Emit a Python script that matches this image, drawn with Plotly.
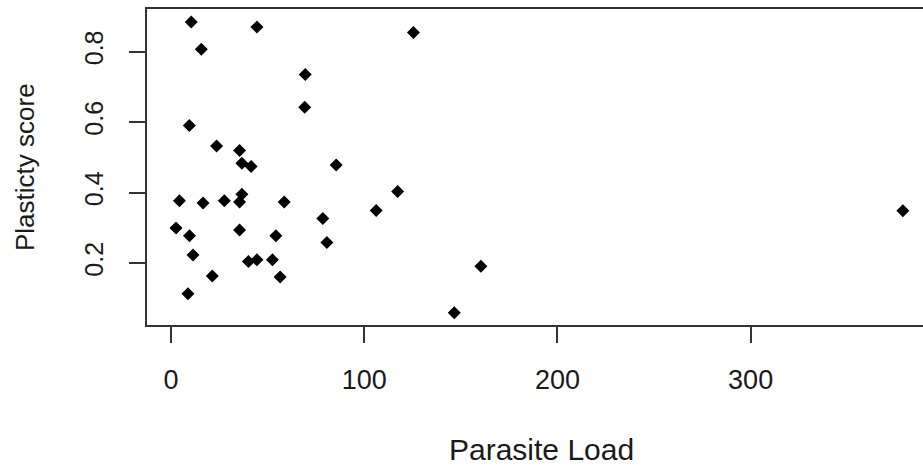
import plotly.graph_objects as go

# Data
parasite_load = [10.5, 44.5, 15.7, 125.5, 69.5, 69.2, 9.5, 23.6, 35.5, 36.7,
                 41.5, 85.5, 117.3, 36.7, 4.4, 16.6, 27.6, 35.5, 58.6, 106.2,
                 78.6, 2.6, 9.6, 35.5, 54.3, 80.7, 11.4, 40.1, 44.5, 52.5,
                 21.4, 56.5, 8.8, 160.4, 146.6, 378.8]
plasticity = [0.884, 0.870, 0.807, 0.854, 0.735, 0.642, 0.590, 0.532, 0.519, 0.483,
              0.474, 0.478, 0.403, 0.395, 0.377, 0.370, 0.377, 0.373, 0.373, 0.349,
              0.326, 0.299, 0.277, 0.294, 0.277, 0.258, 0.223, 0.204, 0.209, 0.209,
              0.163, 0.160, 0.113, 0.191, 0.059, 0.348]

x_ticks = [0, 100, 200, 300]
y_ticks = [0.2, 0.4, 0.6, 0.8]
x_title = "Parasite Load"
y_title = "Plasticty score"

FONT = "Liberation Sans, Arial, sans-serif"
INK = "#1a1a1a"
LINE = "#333333"

fig = go.Figure()
fig.add_trace(go.Scatter(
    x=parasite_load, y=plasticity, mode="markers",
    marker=dict(symbol="diamond", size=10, color="black", line=dict(width=0)),
    hoverinfo="x+y", showlegend=False,
))

fig.update_layout(
    width=923, height=468,
    margin=dict(l=147, r=0, t=9, b=143, pad=0),
    paper_bgcolor="white", plot_bgcolor="white",
    font=dict(family=FONT, color=INK, size=27),
    xaxis=dict(
        range=[-12.4, 389.2], tickvals=x_ticks, ticktext=[str(v) for v in x_ticks],
        showgrid=False, zeroline=False,
        showline=True, mirror=True, linecolor=LINE, linewidth=2,
        ticks="outside", ticklen=16, tickwidth=1.5, tickcolor=LINE,
        tickfont=dict(family=FONT, size=27, color=INK),
        ticklabelstandoff=14,
    ),
    yaxis=dict(
        range=[0.024, 0.921], tickvals=y_ticks, ticktext=[f"{v:.1f}" for v in y_ticks],
        showgrid=False, zeroline=False,
        showline=True, mirror=False, linecolor=LINE, linewidth=2,
        ticks="outside", ticklen=16, tickwidth=1.5, tickcolor=LINE,
        tickangle=-90,
        tickfont=dict(family=FONT, size=25, color=INK),
        ticklabelstandoff=16,
    ),
    annotations=[
        dict(text=x_title, xref="paper", yref="paper", x=(541 - 147) / 776,
             y=(325 - 450) / 316, xanchor="center", yanchor="middle",
             showarrow=False, font=dict(family=FONT, size=30, color=INK)),
        dict(text=y_title, xref="paper", yref="paper", x=(25 - 147) / 776,
             y=(325 - 167) / 316, xanchor="center", yanchor="middle",
             textangle=-90, showarrow=False,
             font=dict(family=FONT, size=26, color=INK)),
    ],
)

fig.write_html("out.html")
